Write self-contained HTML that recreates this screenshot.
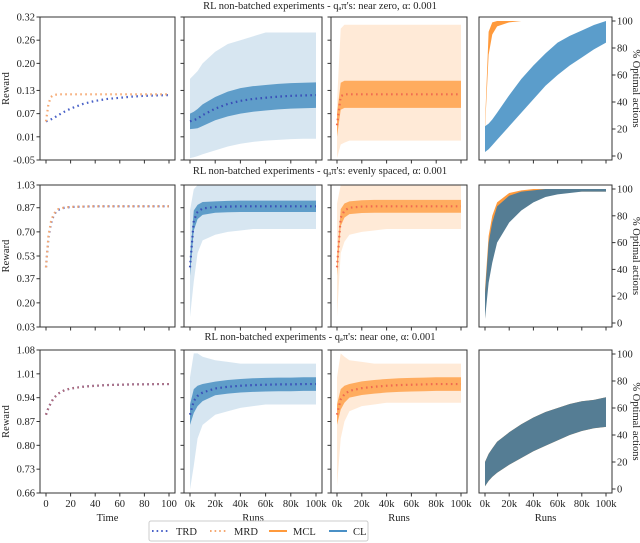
<!DOCTYPE html>
<html><head><meta charset="utf-8"><style>
body{margin:0;background:#fff;}
svg{display:block;font-family:"Liberation Serif",serif;}
</style></head><body>
<svg id="fig" width="640" height="543" viewBox="0 0 640 543"></svg>
<script>
// ---- data ----
const timeSteps=[0,2,4,6,8,10,15,20,30,40,50,60,70,80,90,100];
const runsK=[0,3,6,10,20,30,40,50,60,70,80,90,100];
const rowTitles=["RL non-batched experiments - q\u2090\u03C0's: near zero, \u03B1: 0.001","RL non-batched experiments - q\u2090\u03C0's: evenly spaced, \u03B1: 0.001","RL non-batched experiments - q\u2090\u03C0's: near one, \u03B1: 0.001"];
const yTicks=[[-0.05,0.01,0.07,0.13,0.20,0.26,0.32],[0.03,0.20,0.37,0.53,0.70,0.87,1.03],[0.66,0.73,0.80,0.87,0.94,1.01,1.08]];
const xTimeTicks=[0,20,40,60,80,100];
const xRunTicks=[0,20,40,60,80,100];
const pctTicks=[0,20,40,60,80,100];
// TRD / MRD (time panels)
const trd=[[0.05,0.052,0.055,0.058,0.062,0.066,0.075,0.083,0.095,0.103,0.108,0.111,0.114,0.116,0.117,0.118],
 [0.45,0.66,0.76,0.81,0.84,0.855,0.87,0.875,0.878,0.88,0.88,0.88,0.88,0.88,0.88,0.88],
 [0.89,0.91,0.925,0.937,0.945,0.952,0.962,0.967,0.972,0.975,0.977,0.978,0.979,0.979,0.98,0.98]];
const mrd=[[0.05,0.095,0.113,0.118,0.119,0.12,0.12,0.12,0.12,0.12,0.12,0.12,0.12,0.12,0.12,0.12],
 [0.45,0.67,0.77,0.82,0.845,0.86,0.872,0.876,0.878,0.88,0.88,0.88,0.88,0.88,0.88,0.88],
 [0.89,0.91,0.925,0.937,0.945,0.952,0.962,0.967,0.972,0.975,0.977,0.978,0.979,0.979,0.98,0.98]];
// CL panel (runs): mean, inner half-width, outer low/high
const clMean=[[0.05,0.053,0.057,0.066,0.083,0.095,0.103,0.108,0.111,0.114,0.116,0.117,0.118],
 [0.45,0.78,0.84,0.865,0.875,0.878,0.88,0.88,0.88,0.88,0.88,0.88,0.88],
 [0.89,0.93,0.945,0.955,0.967,0.972,0.975,0.977,0.978,0.979,0.979,0.98,0.98]];
const clInner=[[0.02,0.022,0.025,0.028,0.03,0.032,0.033,0.033,0.033,0.033,0.033,0.033,0.033],
 [0.06,0.07,0.05,0.045,0.04,0.04,0.04,0.04,0.04,0.04,0.04,0.04,0.04],
 [0.03,0.035,0.03,0.025,0.02,0.02,0.02,0.02,0.02,0.02,0.02,0.02,0.02]];
const clLo=[[-0.045,-0.043,-0.04,-0.035,-0.025,-0.015,-0.008,-0.003,0,0.002,0.004,0.005,0.005],
 [0.1,0.35,0.55,0.64,0.68,0.7,0.71,0.72,0.72,0.72,0.72,0.72,0.72],
 [0.67,0.74,0.82,0.86,0.89,0.9,0.91,0.915,0.92,0.92,0.92,0.92,0.92]];
const clHi=[[0.16,0.17,0.18,0.2,0.23,0.25,0.26,0.27,0.28,0.28,0.28,0.28,0.28],
 [0.85,1.0,1.03,1.03,1.03,1.03,1.03,1.03,1.03,1.03,1.03,1.03,1.03],
 [1.0,1.07,1.07,1.06,1.05,1.045,1.04,1.04,1.04,1.04,1.04,1.04,1.04]];
// MCL panel
const mclMean=[[0.04,0.115,0.12,0.12,0.12,0.12,0.12,0.12,0.12,0.12,0.12,0.12,0.12],
 [0.45,0.8,0.85,0.87,0.878,0.88,0.88,0.88,0.88,0.88,0.88,0.88,0.88],
 [0.89,0.935,0.95,0.96,0.968,0.972,0.975,0.977,0.978,0.979,0.98,0.98,0.98]];
const mclInner=[[0.03,0.035,0.035,0.035,0.035,0.035,0.035,0.035,0.035,0.035,0.035,0.035,0.035],
 [0.06,0.06,0.05,0.045,0.045,0.045,0.045,0.045,0.045,0.045,0.045,0.045,0.045],
 [0.03,0.03,0.025,0.02,0.02,0.02,0.02,0.02,0.02,0.02,0.02,0.02,0.02]];
const mclLo=[[-0.045,-0.01,-0.005,0,0.0,0.0,0.0,0.0,0.0,0.0,0.0,0.0,0.0],
 [0.1,0.55,0.63,0.68,0.7,0.71,0.72,0.72,0.72,0.72,0.72,0.72,0.72],
 [0.68,0.82,0.87,0.9,0.915,0.92,0.925,0.925,0.925,0.925,0.925,0.925,0.925],];
const mclHi=[[0.1,0.29,0.3,0.3,0.3,0.3,0.3,0.3,0.3,0.3,0.3,0.3,0.3],
 [0.9,1.03,1.03,1.03,1.03,1.03,1.03,1.03,1.03,1.03,1.03,1.03,1.03],
 [1.0,1.07,1.06,1.05,1.045,1.04,1.04,1.04,1.04,1.04,1.04,1.04,1.04]];
// % optimal actions
const pMclLo=[[20,75,90,96,99,100,100,100,100,100,100,100,100],
 [4,40,55,68,82,89,93,96,97,98,98,98,98],
 [2,6,9,12,18,23,28,32,36,40,43,45,46]];
const pMclHi=[[24,92,99,100,100,100,100,100,100,100,100,100,100],
 [25,65,80,90,97,99,100,100,100,100,100,100,100],
 [20,26,30,35,42,48,53,57,60,63,65,66,68]];
const pClLo=[[3,5,8,12,22,32,42,52,60,67,73,79,84],
 [3,30,45,60,75,84,90,94,96,97,98,98,98],
 [2,6,9,12,18,23,28,32,36,40,43,45,46]];
const pClHi=[[22,24,27,32,45,57,67,76,84,89,93,97,100],
 [22,60,75,87,95,98,99,100,100,100,100,100,100],
 [20,26,30,35,42,48,53,57,60,63,65,66,68]];

// ---- layout ----
const NS="http://www.w3.org/2000/svg";
const svg=document.getElementById('fig');
const colX=[[40,175],[184,322],[331,467],[479,612]];
const rowY=[[17,160],[185,327],[350,493]];
function el(tag,attrs,parent){const e=document.createElementNS(NS,tag);for(const k in attrs)e.setAttribute(k,attrs[k]);(parent||svg).appendChild(e);return e;}
function txt(x,y,s,anchor,size,parent){const t=el('text',{x:x,y:y,'text-anchor':anchor||'middle','font-size':size||10.5,fill:'#222'},parent);t.textContent=s;return t;}
function fmt(v){return v.toFixed(2);}

for(let r=0;r<3;r++){
  const [y0,y1]=rowY[r];
  const yt=yTicks[r];
  const ymin=yt[0],ymax=yt[yt.length-1];
  const ys=v=>y1-(v-ymin)/(ymax-ymin)*(y1-y0);
  const ps=v=>y1-4-(v/100)*(y1-y0-8);
  // title
  const tt=txt(320,r===0?9:(r===1?174:340),rowTitles[r],'middle',10.5);
  
  
  for(let c=0;c<4;c++){
    const [x0,x1]=colX[c];
    const g=el('g',{});
    
    
    const xs=c===0?(v=>x0+6+v/100*(x1-x0-12)):(v=>x0+6+v/100*(x1-x0-12));
    const band=(lo,hi,fill,op,xarr,scale,name)=>{
      let d='M';
      xarr.forEach((k,i)=>{d+=xs(k)+','+scale(hi[i])+' L';});
      for(let i=xarr.length-1;i>=0;i--){d+=xs(xarr[i])+','+scale(lo[i])+(i?' L':' Z');}
      const p=el('path',{d:d,fill:fill,'fill-opacity':op},g);
      
      
    };
    const line=(vals,xarr,color,name)=>{
      const pts=xarr.map((k,i)=>xs(k)+','+ys(vals[i])).join(' ');
      const p=el('polyline',{points:pts,fill:'none',stroke:color,'stroke-width':2.2,'stroke-dasharray':'1.6,3.4','stroke-linecap':'butt'},g);
      
      
    };
    if(c===0){
      line(trd[r],timeSteps,'#4a62c8','trd-line');
      line(mrd[r],timeSteps,r===2?'#b06a78':'#f5a872','mrd-line');
    } else if(c===1||c===2){
      const mean=c===1?clMean[r]:mclMean[r], inner=c===1?clInner[r]:mclInner[r];
      const lo=c===1?clLo[r]:mclLo[r], hi=c===1?clHi[r]:mclHi[r];
      const col=c===1?'#1f77b4':'#ff8a1f';
      band(lo.map(v=>Math.max(v,ymin)),hi.map(v=>Math.min(v,ymax)),col,0.18,runsK,ys,c===1?'cl-outer-band':'mcl-outer-band');
      band(mean.map((m,i)=>m-inner[i]),mean.map((m,i)=>m+inner[i]),col,0.65,runsK,ys,c===1?'cl-inner-band':'mcl-inner-band');
      line(mean,runsK,c===1?'#3a4fb8':'#f06a50',c===1?'trd-mean-line':'mrd-mean-line');
    } else {
      band(pMclLo[r],pMclHi[r],'#ff9a3c',1,runsK,ps,'mcl-optimal-band');
      band(pClLo[r],pClHi[r],r===0?'#5b9dcb':'#557d94',1,runsK,ps,'cl-optimal-band');
    }
    // frame
    el('rect',{x:x0,y:y0,width:x1-x0,height:y1-y0,fill:'none',stroke:'#333','stroke-width':1},g);
    // x ticks
    const xt=c===0?xTimeTicks:xRunTicks;
    xt.forEach(v=>{
      el('line',{x1:xs(v),x2:xs(v),y1:y1,y2:y1+3.5,stroke:'#333'},g);
      if(r===2){const l=txt(xs(v),y1+14,c===0?String(v):v+'k','middle',10.5,g);}
    });
    if(r===2){
      const lab=txt((x0+x1)/2,y1+28,c===0?'Time':'Runs','middle',10.5,g);
      
      
    }
    // y ticks
    if(c<3){
      yt.forEach(v=>{
        el('line',{x1:x0-3.5,x2:x0,y1:ys(v),y2:ys(v),stroke:'#333'},g);
        if(c===0)txt(x0-5,ys(v)+3.5,fmt(v),'end',10.5,g);
      });
    } else {
      pctTicks.forEach(v=>{
        el('line',{x1:x1,x2:x1+3.5,y1:ps(v),y2:ps(v),stroke:'#333'},g);
        txt(x1+5,ps(v)+3.5,String(v),'start',10.5,g);
      });
      const t=txt(0,0,'% Optimal actions','middle',10.5,g);
      t.setAttribute('transform','translate(633,'+((y0+y1)/2)+') rotate(90)');
      
      
    }
    if(c===0){
      const t=txt(0,0,'Reward','middle',10.5,g);
      t.setAttribute('transform','translate(9,'+((y0+y1)/2)+') rotate(-90)');
      
      
    }
  }
}
// legend
const lg=el('g',{});


el('rect',{x:149,y:521,width:219,height:20,rx:2,fill:'#fff',stroke:'#ccc'},lg);
const entries=[['TRD','#4a62c8',true,152],['MRD','#f5a872',true,210],['MCL','#ff9a3c',false,269],['CL','#4a90c6',false,329]];
entries.forEach(e=>{
  const g=el('g',{},lg);
  
  
  el('line',{x1:e[3],x2:e[3]+18,y1:531,y2:531,stroke:e[1],'stroke-width':2,'stroke-dasharray':e[2]?'1.6,3':'none'},g);
  txt(e[3]+24,535,e[0],'start',10.5,g);
});
</script>
</body></html>
